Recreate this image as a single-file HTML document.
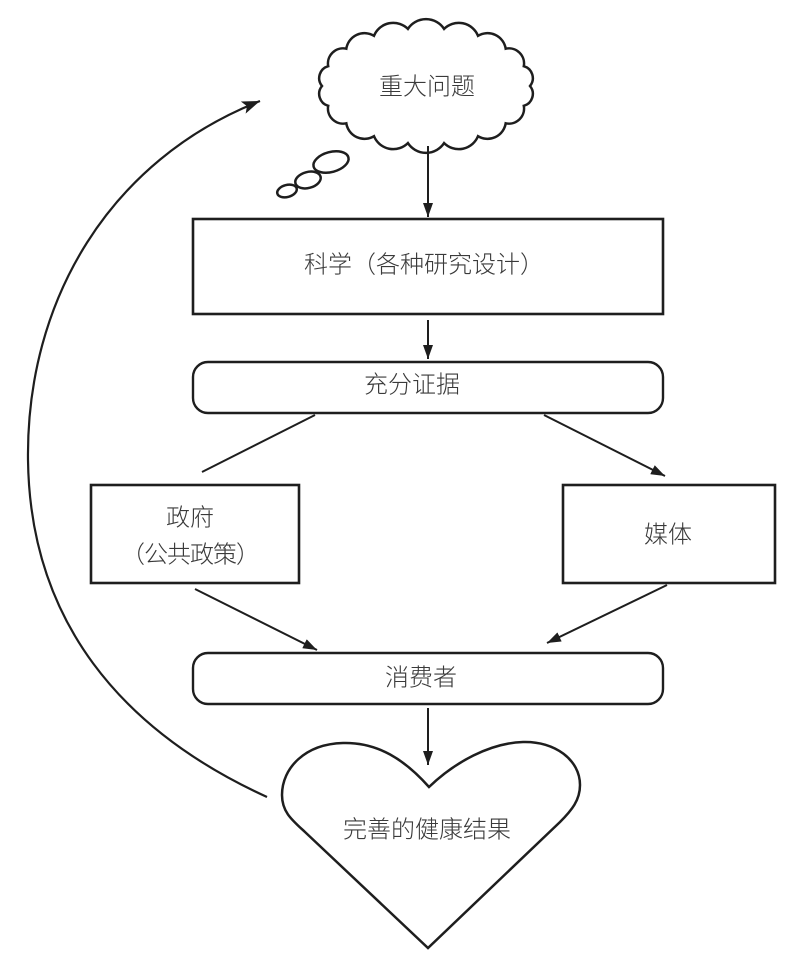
<!DOCTYPE html>
<html>
<head>
<meta charset="utf-8">
<style>
  html,body{margin:0;padding:0;background:#fff;}
  svg{display:block;}
  text{font-family:"Liberation Sans","Noto Sans CJK SC","WenQuanYi Zen Hei",sans-serif;font-size:24px;fill:#3a3a3a;font-weight:300;dominant-baseline:central;}
</style>
</head>
<body>
<svg width="800" height="968" viewBox="0 0 800 968" xmlns="http://www.w3.org/2000/svg">
  <defs>
    <marker id="ah" markerUnits="userSpaceOnUse" markerWidth="14" markerHeight="10" refX="14" refY="5" orient="auto">
      <path d="M0,0 L14,5 L0,10 Z" fill="#1e1e1e"/>
    </marker>
    <marker id="ahb" markerUnits="userSpaceOnUse" markerWidth="18" markerHeight="13" refX="18" refY="6.5" orient="auto">
      <path d="M0,0 L18,6.5 L0,13 L4,6.5 Z" fill="#1e1e1e"/>
    </marker>
  </defs>

  <g fill="none" stroke="#1e1e1e">
    <!-- cloud -->
    <path stroke-width="2.5" d="M530,86 A12.4,12.4 0 0 1 523.8,105.8 A15.1,15.1 0 0 1 505.7,123.3 A18.4,18.4 0 0 1 478,136.2 A20.8,20.8 0 0 1 444.1,143.1 A21.7,21.7 0 0 1 407.9,143.1 A20.8,20.8 0 0 1 374,136.2 A18.4,18.4 0 0 1 346.3,123.3 A15.1,15.1 0 0 1 328.2,105.8 A12.4,12.4 0 0 1 322,86 A12.4,12.4 0 0 1 328.2,66.2 A15.1,15.1 0 0 1 346.3,48.7 A18.4,18.4 0 0 1 374,35.8 A20.8,20.8 0 0 1 407.9,28.9 A21.7,21.7 0 0 1 444.1,28.9 A20.8,20.8 0 0 1 478,35.8 A18.4,18.4 0 0 1 505.7,48.7 A15.1,15.1 0 0 1 523.8,66.2 A12.4,12.4 0 0 1 530,86 Z"/>
    <!-- thought bubbles -->
    <ellipse cx="331" cy="162" rx="18" ry="10" stroke-width="2.5" transform="rotate(-15 331 162)"/>
    <ellipse cx="308" cy="180" rx="13" ry="8" stroke-width="2.5" transform="rotate(-15 308 180)"/>
    <ellipse cx="287" cy="191" rx="10" ry="6" stroke-width="2.5" transform="rotate(-15 287 191)"/>

    <!-- boxes -->
    <rect x="193" y="219" width="470" height="95" stroke-width="2.6"/>
    <rect x="193" y="362" width="470" height="51" rx="15" ry="15" stroke-width="2.4"/>
    <rect x="91" y="485" width="208" height="98" stroke-width="2.6"/>
    <rect x="563" y="485" width="212" height="98" stroke-width="2.6"/>
    <rect x="193" y="653" width="470" height="51" rx="15" ry="15" stroke-width="2.4"/>

    <!-- heart -->
    <path stroke-width="2.5" d="M429,787 C405,760 378,742 343,743 C305,744 282,768 282,795 C282,812 292,820 305,832 L428,948 L560,822 C572,810 580,800 580,785 C580,760 555,741 523,742 C490,743 455,762 429,787 Z"/>

    <!-- connectors -->
    <line x1="428" y1="146" x2="428" y2="217" stroke-width="2" marker-end="url(#ah)"/>
    <line x1="428" y1="320" x2="428" y2="359" stroke-width="2" marker-end="url(#ah)"/>
    <line x1="315" y1="415" x2="202" y2="472" stroke-width="2"/>
    <line x1="544" y1="415" x2="665" y2="476" stroke-width="2" marker-end="url(#ah)"/>
    <line x1="195" y1="589" x2="317" y2="650" stroke-width="2" marker-end="url(#ah)"/>
    <line x1="667" y1="585" x2="547" y2="643" stroke-width="2" marker-end="url(#ah)"/>
    <line x1="428" y1="708" x2="428" y2="765" stroke-width="2" marker-end="url(#ah)"/>

    <!-- big feedback arc -->
    <path stroke-width="2.2" d="M267,797 C120,730 30,620 28,460 C26,300 110,160 260,101" marker-end="url(#ahb)"/>
  </g>

  <!-- labels -->
  <text x="427" y="87" text-anchor="middle">重大问题</text>
  <text x="424" y="265" text-anchor="middle">科学（各种研究设计）</text>
  <text x="412" y="385" text-anchor="middle">充分证据</text>
  <text x="190" y="518" text-anchor="middle">政府</text>
  <text x="190" y="555" text-anchor="middle" letter-spacing="-1">（公共政策）</text>
  <text x="668" y="535" text-anchor="middle">媒体</text>
  <text x="421" y="678" text-anchor="middle">消费者</text>
  <text x="427" y="830" text-anchor="middle">完善的健康结果</text>
</svg>
</body>
</html>
